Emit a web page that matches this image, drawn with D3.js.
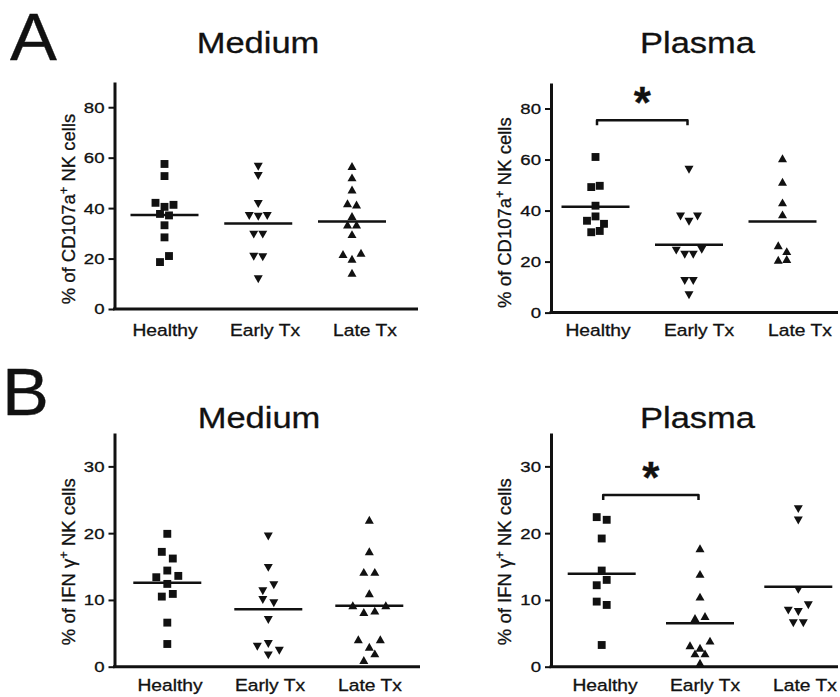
<!DOCTYPE html>
<html><head><meta charset="utf-8">
<script src="https://cdn.jsdelivr.net/npm/d3@7"></script>
<style>
body{margin:0;background:#fff}
svg{display:block}
text{font-family:"Liberation Sans",Arial,Helvetica,sans-serif;fill:#111;stroke:#111;stroke-width:0.3px}
</style>
</head><body><svg id="chart" width="840" height="697"></svg>
<script>
// ---------- data ----------
const categories = ["Healthy", "Early Tx", "Late Tx"];
const panelLetters = ["A", "B"];
const conditions = ["Medium", "Plasma"];
const cd107aTicks = [0, 20, 40, 60, 80];
const ifngTicks = [0, 10, 20, 30];

// A: % of CD107a+ NK cells
const cd107aMediumHealthy = [57.5, 52.7, 42.1, 40.5, 41.3, 37.7, 37.1, 33.2, 28.4, 18.6, 21.0];
const cd107aMediumEarly   = [56.4, 52.7, 41.6, 36.9, 36.6, 36.9, 29.5, 29.5, 20.7, 20.5, 11.8];
const cd107aMediumLate    = [56.7, 52.2, 47.4, 41.9, 41.4, 36.9, 33.5, 33.5, 29.7, 21.8, 19.9, 22.3, 14.4];
const cd107aPlasmaHealthy = [61.0, 49.2, 49.7, 41.9, 36.0, 37.7, 34.8, 31.5, 32.0];
const cd107aPlasmaEarly   = [56.0, 37.7, 35.6, 37.7, 24.3, 22.7, 22.7, 24.6, 12.4, 12.4, 6.8];
const cd107aPlasmaLate    = [60.5, 51.3, 43.2, 38.5, 26.4, 24.1, 20.7, 21.0];

// B: % of IFN-γ+ NK cells
const ifngMediumHealthy = [19.9, 17.2, 16.2, 13.4, 14.4, 13.6, 12.4, 10.5, 10.9, 6.6, 3.4];
const ifngMediumEarly   = [19.5, 14.8, 11.3, 12.2, 10.0, 9.5, 7.0, 3.0, 3.4, 2.4, 1.7];
const ifngMediumLate    = [22.0, 17.3, 14.2, 14.2, 11.0, 9.2, 8.2, 8.4, 9.2, 4.1, 3.0, 4.1, 1.0, 2.0];
const ifngPlasmaHealthy = [22.4, 22.0, 19.2, 14.4, 12.2, 13.0, 9.75, 9.25, 3.25];
const ifngPlasmaEarly   = [17.75, 13.9, 10.5, 7.3, 7.6, 3.2, 2.85, 3.9, 2.0, 2.0, 0.6];
const ifngPlasmaLate    = [23.6, 21.9, 11.5, 8.4, 8.2, 9.2, 6.5, 6.5];

// significance brackets (Healthy vs Early Tx, Plasma panels)
const cd107aBracket = 75.4;
const ifngBracket = 25.7;

// ---------- layout ----------
const INK = "#111";
const panels = [
  {cond: 0, ax: 114.5, y0: 309, top: 82, max: 90, ticks: cd107aTicks,
   series: [cd107aMediumHealthy, cd107aMediumEarly, cd107aMediumLate], shapes: ["square", "down", "up"],
   xr: [164.5, 352], lr: [165, 365], xEnd: 418, labY: 336, titleX: 258, titleY: 53, step: 9,
   ylab: ["% of CD107a", " NK cells"], ylabDy: -100},
  {cond: 1, ax: 551, y0: 312.6, top: 83, max: 90, ticks: cd107aTicks,
   series: [cd107aPlasmaHealthy, cd107aPlasmaEarly, cd107aPlasmaLate], shapes: ["square", "down", "up"],
   xr: [595.5, 782.5], lr: [598, 800], xEnd: 838, labY: 336, titleX: 697.5, titleY: 53, step: 8.5,
   ylab: ["% of CD107a", " NK cells"], ylabDy: -100, bracket: cd107aBracket},
  {cond: 0, ax: 114.5, y0: 666.7, top: 433, max: 35, ticks: ifngTicks,
   series: [ifngMediumHealthy, ifngMediumEarly, ifngMediumLate], shapes: ["square", "down", "up"],
   xr: [167.3, 369.3], lr: [170, 370], xEnd: 420, labY: 690.5, titleX: 259, titleY: 428, step: 11,
   ylab: ["% of IFN \u03b3", " NK cells"], ylabDy: -105},
  {cond: 1, ax: 551, y0: 666.7, top: 433, max: 35, ticks: ifngTicks,
   series: [ifngPlasmaHealthy, ifngPlasmaEarly, ifngPlasmaLate], shapes: ["square", "up", "down"],
   xr: [601.7, 798.3], lr: [605, 805], xEnd: 838, labY: 690.5, titleX: 697.5, titleY: 428.3, step: 10,
   ylab: ["% of IFN \u03b3", " NK cells"], ylabDy: -105, bracket: ifngBracket}
];
const letterPos = [{x: 10, y: 60}, {x: 2, y: 415}];

// custom triangle symbols centred on their bounding box
function tri(dir) {
  return {draw(ctx, size) {
    const s = Math.sqrt(size), hw = s / 2, hh = s * 0.44;
    ctx.moveTo(-hw, -dir * hh); ctx.lineTo(hw, -dir * hh); ctx.lineTo(0, dir * hh); ctx.closePath();
  }};
}
const symbolFor = {
  square: d3.symbol().type(d3.symbolSquare).size(62),
  up: d3.symbol().type(tri(-1)).size(81),
  down: d3.symbol().type(tri(1)).size(81)
};

// row-based dodge: points whose pixel positions fall within one symbol height share a row
function dodge(values, y, thresh, step) {
  const idx = values.map((v, i) => i).sort((a, b) => values[b] - values[a] || a - b);
  const rows = []; let cur = null;
  for (const i of idx) {
    const py = y(values[i]);
    if (cur && py - cur.start < thresh) cur.members.push(i);
    else { cur = {start: py, members: [i]}; rows.push(cur); }
  }
  const off = new Array(values.length);
  rows.forEach(r => {
    r.members.sort((a, b) => a - b);
    const n = r.members.length;
    r.members.forEach((m, k) => off[m] = (k - (n - 1) / 2) * step);
  });
  return off;
}

const svg = d3.select("#chart");
svg.append("rect").attr("width", 840).attr("height", 697).attr("fill", "#fff");

panelLetters.forEach((L, i) => {
  svg.append("text").text(L)
    .attr("transform", `translate(${letterPos[i].x},${letterPos[i].y}) scale(1.05,1)`)
    .style("font-size", "67px");
});

panels.forEach(p => {
  const g = svg.append("g");
  const y = d3.scaleLinear().domain([0, p.max]).range([p.y0, p.top]);
  const x = d3.scalePoint().domain(categories).range(p.xr);
  const xl = d3.scalePoint().domain(categories).range(p.lr);

  // title
  g.append("text").text(conditions[p.cond])
    .attr("transform", `translate(${p.titleX},${p.titleY}) scale(1.15,1)`)
    .attr("text-anchor", "middle").style("font-size", "30px");

  // y axis
  const yAxis = d3.axisLeft(y).tickValues(p.ticks).tickSizeOuter(0).tickSizeInner(6).tickPadding(4);
  const ga = g.append("g").attr("transform", `translate(${p.ax},0)`).call(yAxis);
  ga.attr("font-size", null).attr("font-family", null);
  ga.select(".domain").attr("stroke", INK).attr("stroke-width", 3);
  ga.selectAll(".tick line").attr("stroke", INK).attr("stroke-width", 2);
  ga.selectAll(".tick text").attr("fill", INK)
    .style("font-size", "15.5px")
    .attr("x", null)
    .attr("transform", "translate(-10,0) scale(1.2,1)");

  // x axis baseline
  g.append("line").attr("x1", p.ax - 1.5).attr("x2", p.xEnd)
    .attr("y1", y(0)).attr("y2", y(0)).attr("stroke", INK).attr("stroke-width", 3);

  // category labels
  g.selectAll(".cat").data(categories).join("text")
    .text(d => d)
    .attr("transform", d => `translate(${xl(d)},${p.labY}) scale(1.18,1)`)
    .attr("text-anchor", "middle").style("font-size", "16.3px");

  // y label
  const yl = g.append("text")
    .attr("transform", `translate(${p.ax - 40},${p.y0 + p.ylabDy}) rotate(-90)`)
    .attr("text-anchor", "middle").style("font-size", "18.5px");
  yl.append("tspan").text(p.ylab[0]);
  yl.append("tspan").text("+").style("font-size", "13px").attr("dy", -7);
  yl.append("tspan").text(p.ylab[1]).attr("dy", 7);

  // points + mean lines
  categories.forEach((c, ci) => {
    const vals = p.series[ci];
    const off = dodge(vals, y, 8, p.step);
    g.selectAll(null).data(vals).join("path")
      .attr("d", symbolFor[p.shapes[ci]])
      .attr("transform", (d, i) => `translate(${x(c) + off[i]},${y(d)})`)
      .attr("fill", INK);
    const m = d3.mean(vals);
    g.append("line").attr("x1", x(c) - 34).attr("x2", x(c) + 34)
      .attr("y1", y(m)).attr("y2", y(m)).attr("stroke", INK).attr("stroke-width", 2.5);
  });

  // significance bracket
  if (p.bracket !== undefined) {
    const x1 = x(categories[0]) + 1.5, x2 = x(categories[1]) - 1.5, yb = y(p.bracket);
    g.append("path").attr("d", `M${x1},${yb + 5}L${x1},${yb}L${x2},${yb}L${x2},${yb + 5}`)
      .attr("fill", "none").attr("stroke", INK).attr("stroke-width", 2.5).attr("stroke-linejoin", "round");
    g.append("text").text("*").attr("x", (x1 + x2) / 2).attr("y", yb - 2)
      .attr("text-anchor", "middle").style("font-size", "44px").style("font-weight", "bold");
  }
});
</script>
</body></html>
